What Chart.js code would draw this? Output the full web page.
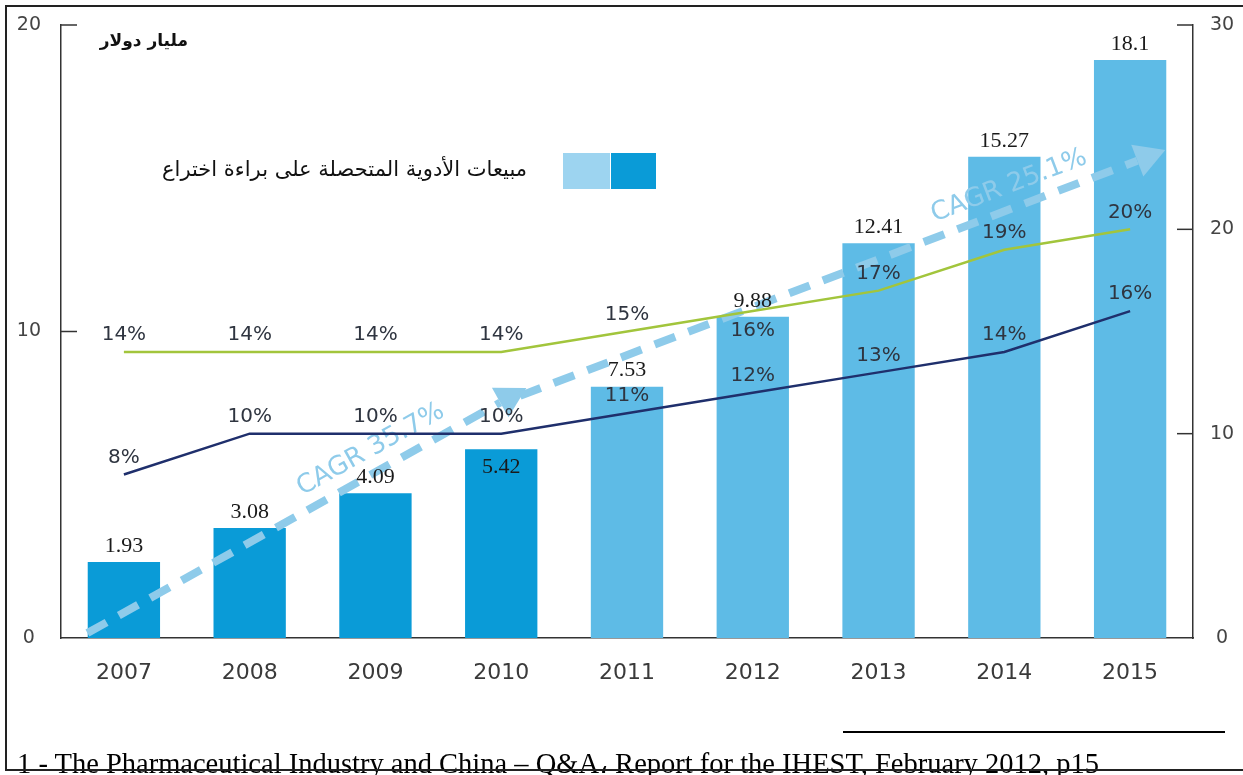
<!DOCTYPE html>
<html>
<head>
<meta charset="utf-8">
<script src="https://cdn.jsdelivr.net/npm/chart.js@4.4.1/dist/chart.umd.min.js"></script>
<style>
    html, body { margin: 0; padding: 0; background: #fff; }
    #wrap { position: relative; width: 1243px; height: 775px; overflow: hidden; }
    #salesChart { position: absolute; left: 0; top: 0; }
    .frame { position: absolute; left: 5px; top: 5px; width: 1240px; height: 762px;
             border-left: 2px solid #222; border-top: 2px solid #222; border-bottom: 2px solid #222; }
    .unit { position: absolute; right: 1055px; top: 30px; font: bold 17px "DejaVu Sans", sans-serif;
            direction: rtl; color: #111; }
    .legend-text { position: absolute; right: 716px; top: 157px; font: 21px "DejaVu Sans", sans-serif;
                   direction: rtl; color: #111; white-space: nowrap; }
    .swatch { position: absolute; top: 153px; height: 36px; }
    .rule { position: absolute; left: 843px; top: 731px; width: 382px; height: 2px; background: #000; }
    .note { position: absolute; left: 17px; top: 750px; font: 28.5px "Liberation Serif", "Times New Roman", serif;
            line-height: 28px; color: #000; white-space: nowrap; }
</style>
</head>
<body>
<div id="wrap">
    <canvas id="salesChart" width="1243" height="775"></canvas>
    <div class="unit">مليار دولار</div>
    <div class="legend-text">مبيعات الأدوية المتحصلة على براءة اختراع</div>
    <div class="swatch" style="left:563px;width:47px;background:#9dd4f0"></div>
    <div class="swatch" style="left:611px;width:45px;background:#0a9bd7"></div>
    <div class="rule"></div>
    <div class="note">1 - The Pharmaceutical Industry and China – Q&amp;A، Report for the IHEST, February 2012, p15</div>
    <div class="frame"></div>
</div>
<script>
// years on the x axis
const years = ['2007', '2008', '2009', '2010', '2011', '2012', '2013', '2014', '2015'];
// printed sales figures (billion $)
const salesLabels = ['1.93', '3.08', '4.09', '5.42', '7.53', '9.88', '12.41', '15.27', '18.1'];
// bar heights as drawn against the left axis
const salesBars = [2.48, 3.59, 4.72, 6.16, 8.20, 10.48, 12.88, 15.70, 18.86];
// percentage lines (right axis)
const greenShare = [14, 14, 14, 14, 15, 16, 17, 19, 20];
const navyShare = [8, 10, 10, 10, 11, 12, 13, 14, 16];
// first forecast year (lighter bars)
const forecastFrom = 4;
// CAGR arrows: [category index, left-axis value]
const cagrText = ['CAGR 35.7%', 'CAGR 25.1%'];
const cagrFrom = [[-0.29, 0.16], [3.15, 7.9]];
const cagrTo = [[3.2, 8.16], [8.28, 15.92]];
const cagrTextAt = [0.67, 0.77];

const DARK = '#0a9bd7';
const LIGHT = '#5ebbe6';
const ARROW = '#8ecbea';

function drawArrows(chart) {
    const ctx = chart.ctx;
    const xs = chart.scales.x, ys = chart.scales.yL;
    ctx.save();
    for (let i = 0; i < cagrText.length; i++) {
        const x0 = xs.getPixelForValue(cagrFrom[i][0]), y0 = ys.getPixelForValue(cagrFrom[i][1]);
        const x1 = xs.getPixelForValue(cagrTo[i][0]), y1 = ys.getPixelForValue(cagrTo[i][1]);
        const dx = x1 - x0, dy = y1 - y0;
        const len = Math.sqrt(dx * dx + dy * dy);
        const ux = dx / len, uy = dy / len;
        const bx = x1 - ux * 30, by = y1 - uy * 30;

        ctx.strokeStyle = ARROW;
        ctx.lineWidth = 8;
        ctx.setLineDash([22, 14]);
        ctx.beginPath();
        ctx.moveTo(x0, y0);
        ctx.lineTo(bx, by);
        ctx.stroke();
        ctx.setLineDash([]);

        ctx.fillStyle = ARROW;
        ctx.beginPath();
        ctx.moveTo(x1, y1);
        ctx.lineTo(bx - uy * 17, by + ux * 17);
        ctx.lineTo(bx + uy * 17, by - ux * 17);
        ctx.closePath();
        ctx.fill();

        const t = cagrTextAt[i];
        const tx = x0 + dx * t + uy * 22, ty = y0 + dy * t - ux * 22;
        ctx.save();
        ctx.translate(tx, ty);
        ctx.rotate(Math.atan2(dy, dx));
        ctx.font = '26px "DejaVu Sans", sans-serif';
        ctx.textAlign = 'center';
        ctx.textBaseline = 'middle';
        ctx.fillText(cagrText[i], 0, 0);
        ctx.restore();
    }
    ctx.restore();
}

const overlay = {
    id: 'overlay',
    afterDatasetDraw(chart, args) {
        if (args.index === 0) drawArrows(chart);
    },
    afterDatasetsDraw(chart) {
        const ctx = chart.ctx;
        const bars = chart.getDatasetMeta(0).data;
        const green = chart.getDatasetMeta(1).data;
        const navy = chart.getDatasetMeta(2).data;
        ctx.save();
        ctx.textAlign = 'center';
        ctx.textBaseline = 'middle';

        const barLabelY = [];
        ctx.font = '22px "Liberation Serif", "Times New Roman", serif';
        ctx.fillStyle = '#1a1a1a';
        bars.forEach(function (bar, i) {
            let y = bar.y - 16;
            if (Math.abs(y - navy[i].y) < 12) y = bar.y + 18;
            barLabelY.push(y);
            ctx.fillText(salesLabels[i], bar.x, y);
        });

        ctx.font = '20px "DejaVu Sans", sans-serif';
        ctx.fillStyle = '#2f3540';
        [[green, greenShare], [navy, navyShare]].forEach(function (pair) {
            pair[0].forEach(function (pt, i) {
                let y = pt.y - 17;
                if (Math.abs(y - barLabelY[i]) < 14) y = pt.y + 20;
                ctx.fillText(pair[1][i] + '%', pt.x, y);
            });
        });
        ctx.restore();
    },
    afterDraw(chart) {
        const ctx = chart.ctx;
        ctx.save();
        ctx.strokeStyle = '#333';
        ctx.lineWidth = 1.5;
        const yl = chart.scales.yL, yr = chart.scales.yR;
        yl.ticks.forEach(function (t) {
            if (t.value === 0) return;
            const y = yl.getPixelForValue(t.value);
            ctx.beginPath(); ctx.moveTo(yl.right, y); ctx.lineTo(yl.right + 16, y); ctx.stroke();
        });
        yr.ticks.forEach(function (t) {
            if (t.value === 0) return;
            const y = yr.getPixelForValue(t.value);
            ctx.beginPath(); ctx.moveTo(yr.left, y); ctx.lineTo(yr.left - 16, y); ctx.stroke();
        });
        ctx.restore();
    }
};

new Chart(document.getElementById('salesChart').getContext('2d'), {
    type: 'bar',
    data: {
        labels: years,
        datasets: [
            {
                label: 'sales',
                data: salesBars,
                yAxisID: 'yL',
                backgroundColor: function (c) { return c.dataIndex < forecastFrom ? DARK : LIGHT; },
                barPercentage: 0.575,
                categoryPercentage: 1.0,
                order: 2
            },
            {
                type: 'line',
                label: 'green',
                data: greenShare,
                yAxisID: 'yR',
                borderColor: '#a2c53c',
                borderWidth: 2.5,
                pointRadius: 0,
                tension: 0,
                fill: false,
                order: 0
            },
            {
                type: 'line',
                label: 'navy',
                data: navyShare,
                yAxisID: 'yR',
                borderColor: '#1f2f6c',
                borderWidth: 2.5,
                pointRadius: 0,
                tension: 0,
                fill: false,
                order: 0
            }
        ]
    },
    options: {
        responsive: false,
        animation: false,
        layout: { padding: { top: 25, left: 0, right: 0, bottom: 0 } },
        plugins: { legend: { display: false }, tooltip: { enabled: false } },
        scales: {
            x: {
                grid: { display: false, drawTicks: false },
                border: { display: true, color: '#333', width: 1.5 },
                ticks: { color: '#3a3a3a', font: { family: 'DejaVu Sans', size: 22 }, padding: 22 },
                afterFit: function (s) { s.height = 137; }
            },
            yL: {
                position: 'left',
                min: 0, max: 20,
                grid: { display: false, drawTicks: false },
                border: { display: true, color: '#333', width: 1.5 },
                ticks: { stepSize: 10, color: '#444', font: { family: 'DejaVu Sans', size: 19 }, padding: 20, crossAlign: 'center' },
                afterFit: function (s) { s.width = 61; s.paddingTop = 0; s.paddingBottom = 0; }
            },
            yR: {
                position: 'right',
                min: 0, max: 30,
                grid: { display: false, drawTicks: false },
                border: { display: true, color: '#333', width: 1.5 },
                ticks: { stepSize: 10, color: '#444', font: { family: 'DejaVu Sans', size: 19 }, padding: 17, crossAlign: 'center' },
                afterFit: function (s) { s.width = 50; s.paddingTop = 0; s.paddingBottom = 0; }
            }
        }
    },
    plugins: [overlay]
});
</script>
</body>
</html>
